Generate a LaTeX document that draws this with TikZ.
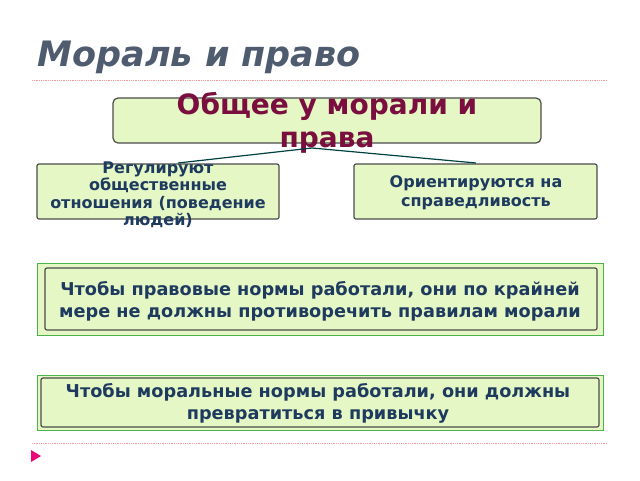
\documentclass[tikz,border=0pt]{standalone}
\usepackage{fontspec}
\setmainfont{DejaVu Sans}
\definecolor{boxfill}{HTML}{E4F7C4}
\definecolor{titlec}{HTML}{4F5B6E}
\definecolor{txtc}{HTML}{1E3A5F}
\definecolor{topc}{HTML}{7A0E3E}
\begin{document}
\begin{tikzpicture}[x=1pt,y=-1pt,
  gbox/.style={draw=black!70,line width=1.2pt,fill=boxfill,rounded corners=2pt,inner sep=0pt},
  txt/.style={text=txtc,font=\bfseries,align=center},
  link/.style={draw=teal!50!black,line width=1.2pt}]
\useasboundingbox (0,0) rectangle (640,480);
\node[anchor=west,text=titlec,font=\bfseries\itshape\fontsize{35}{40}\selectfont] (t) at (34,57) {Мораль и право};
\draw[densely dotted,pink!80!red,line width=0.8pt] (32,80) -- (608,80);
\draw[densely dotted,pink!80!red,line width=0.8pt] (32,443) -- (608,443);
\fill[magenta!80!red] (31,450) -- (41,456) -- (31,462) -- cycle;
\draw[gbox,rounded corners=5pt] (113,98) rectangle (541,143);
\node[font=\bfseries\fontsize{28}{33}\selectfont,text=topc,align=center] (top) at (327,123) {Общее у морали и\\права};
\draw[gbox] (37,164) rectangle (279,219);
\node[txt,font=\bfseries\fontsize{16}{17.5}\selectfont] (l) at (158,195) {Регулируют\\общественные\\отношения (поведение\\людей)};
\draw[gbox] (354,164) rectangle (597,219);
\node[txt,font=\bfseries\fontsize{16}{19}\selectfont] (r) at (476,193) {Ориентируются на\\справедливость};
\coordinate (c) at (312,148);
\draw[link] (c) -- (178,163);
\draw[link] (c) -- (476,163);
\draw[draw=green!40!gray,fill=boxfill,line width=1pt] (37,263) rectangle (603,335);
\draw[gbox] (45,268) rectangle (597,330);
\node[txt,font=\bfseries\fontsize{17.7}{22}\selectfont] (b3) at (320,301) {Чтобы правовые нормы работали, они по крайней\\мере не должны противоречить правилам морали};
\draw[draw=green!40!gray,fill=boxfill,line width=1pt] (37,375) rectangle (603,430);
\draw[gbox] (41,378) rectangle (599,427);
\node[txt,font=\bfseries\fontsize{17.7}{22}\selectfont] (b4) at (318,403) {Чтобы моральные нормы работали, они должны\\превратиться в привычку};
\end{tikzpicture}
\end{document}
